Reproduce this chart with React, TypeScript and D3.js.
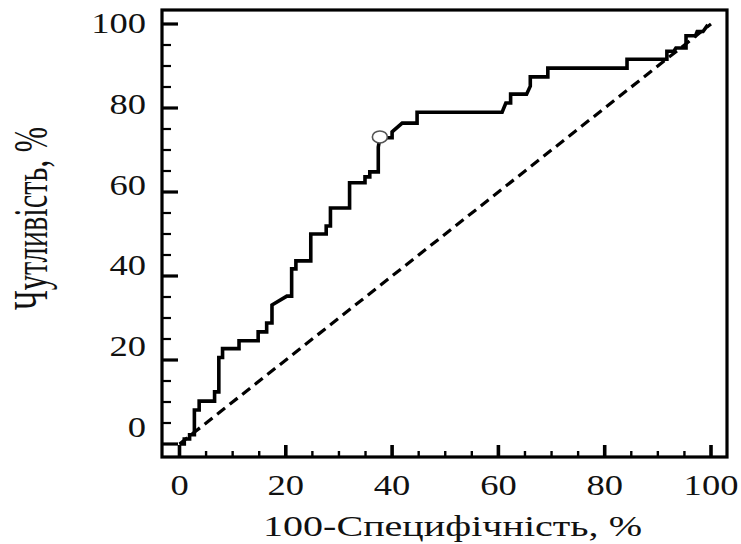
import * as d3 from 'd3';

// ROC curve vertices (100-specificity, sensitivity)
const fpr = [0, 0.9, 0.9, 1.9, 1.9, 2.8, 2.8, 3.7, 3.7, 6.6, 6.6, 7.4, 7.4, 8.1, 8.1, 11.2, 11.2, 14.8, 14.8, 16.4, 16.4, 17.4, 17.4, 20.2, 21.1, 21.1, 21.9, 21.9, 24.7, 24.7, 27.6, 27.6, 28.4, 28.4, 32.0, 32.0, 34.9, 34.9, 35.8, 35.8, 37.4, 37.4, 37.7, 40.0, 40.0, 41.9, 44.7, 44.7, 60.7, 61.4, 62.3, 62.3, 65.3, 66.0, 66.0, 69.3, 69.3, 84.2, 84.2, 91.7, 91.7, 93.0, 93.4, 95.3, 95.3, 97.1, 97.4, 98.5, 99.4];
const tpr = [0, 0, 1.2, 1.2, 2.2, 2.2, 8.1, 8.1, 10.2, 10.2, 12.4, 12.4, 20.6, 20.6, 22.7, 22.7, 24.6, 24.6, 26.7, 26.7, 28.8, 28.8, 33.1, 35.2, 35.2, 41.7, 41.7, 43.6, 43.6, 50.0, 50.0, 51.9, 51.9, 56.2, 56.2, 62.2, 62.2, 63.6, 63.6, 64.8, 64.8, 70.7, 72.9, 72.9, 74.3, 76.4, 76.4, 79.0, 79.0, 81.2, 81.2, 83.3, 83.3, 85.2, 87.4, 87.4, 89.5, 89.5, 91.6, 91.6, 93.5, 93.5, 94.3, 94.3, 97.2, 97.2, 98.2, 98.2, 99.8];

// optimal cut-off point
const cutX = [37.7];
const cutY = [73.1];

// reference diagonal
const diagX = [0, 100];
const diagY = [0, 100];

const xTicks = [0, 20, 40, 60, 80, 100];
const yTicks = [0, 20, 40, 60, 80, 100];
const minorTicks = d3.range(5, 100, 5).filter(v => v % 20 !== 0);

const xTitle = '100-Специфічність, %';
const yTitle = 'Чутливість, %';

export default function App() {
  const width = 741;
  const height = 544;
  const frame = { left: 162, top: 10, right: 727, bottom: 457 };

  const x = d3.scaleLinear().domain([0, 100]).range([179.5, 711]);
  const y = d3.scaleLinear().domain([0, 100]).range([444, 24]);
  // the printed y labels drift slightly from their ticks in the original
  const yLabel = d3.scaleLinear().domain([0, 100]).range([437, 33]);

  const line = d3.line<number>()
    .x(i => x(fpr[i]))
    .y(i => y(tpr[i]));
  const diag = d3.line<number>()
    .x(i => x(diagX[i]))
    .y(i => y(diagY[i]));

  const font = '"Liberation Serif", "Times New Roman", serif';

  return (
    <svg width={width} height={height} style={{ position: 'fixed', left: 0, top: 0, background: '#fff' }}>
      {/* dashed chance line */}
      <path d={diag(d3.range(diagX.length)) ?? ''} fill="none" stroke="#000" strokeWidth={3.2} strokeDasharray="10,6" />

      {/* ROC curve */}
      <path d={line(d3.range(fpr.length)) ?? ''} fill="none" stroke="#000" strokeWidth={3.6} strokeLinejoin="miter" />

      {cutX.map((cx, i) => (
        <ellipse key={i} cx={x(cx)} cy={y(cutY[i])} rx={7.5} ry={6} fill="#fff" stroke="#555" strokeWidth={1.6} />
      ))}

      {/* frame */}
      <rect x={frame.left} y={frame.top} width={frame.right - frame.left} height={frame.bottom - frame.top}
        fill="none" stroke="#000" strokeWidth={3.2} />

      {/* x ticks (inward) */}
      {xTicks.map(v => (
        <line key={'xM' + v} x1={x(v)} x2={x(v)} y1={frame.bottom} y2={frame.bottom - 12} stroke="#000" strokeWidth={3.6} />
      ))}
      {minorTicks.map(v => (
        <line key={'xm' + v} x1={x(v)} x2={x(v)} y1={frame.bottom} y2={frame.bottom - 6} stroke="#000" strokeWidth={2.4} />
      ))}

      {/* y ticks (inward) */}
      {yTicks.map(v => (
        <line key={'yM' + v} x1={frame.left} x2={frame.left + 16} y1={y(v)} y2={y(v)} stroke="#000" strokeWidth={3.2} />
      ))}
      {minorTicks.map(v => (
        <line key={'ym' + v} x1={frame.left} x2={frame.left + 9} y1={y(v)} y2={y(v)} stroke="#000" strokeWidth={2.2} />
      ))}

      {/* tick labels */}
      {xTicks.map(v => (
        <text key={'xl' + v} transform={`translate(${x(v)},495) scale(1.26,1)`} textAnchor="middle"
          fontFamily={font} fontSize={29} fill="#111">{v}</text>
      ))}
      {yTicks.map(v => (
        <text key={'yl' + v} transform={`translate(146,${yLabel(v)}) scale(1.26,1)`} textAnchor="end"
          fontFamily={font} fontSize={29} fill="#111">{v}</text>
      ))}

      {/* axis titles */}
      <text x={452.5} y={536} textAnchor="middle" fontFamily={font} fontSize={30} fill="#111"
        textLength={379} lengthAdjust="spacingAndGlyphs">{xTitle}</text>
      <text transform="translate(47,218.5) rotate(-90) scale(1,1.6)" textAnchor="middle" fontFamily={font}
        fontSize={30} fill="#111" textLength={183} lengthAdjust="spacingAndGlyphs">{yTitle}</text>
    </svg>
  );
}
